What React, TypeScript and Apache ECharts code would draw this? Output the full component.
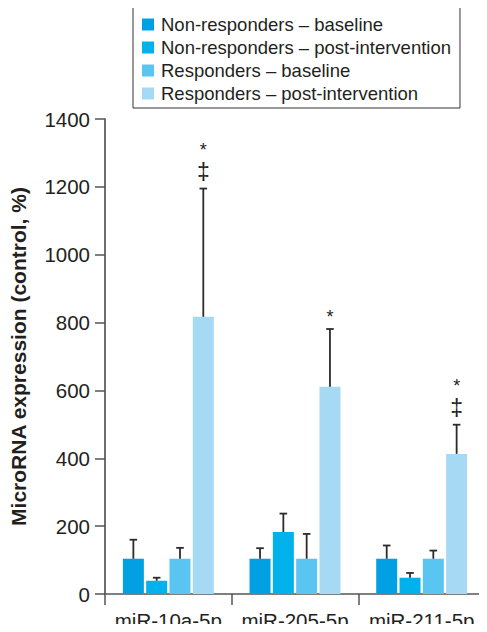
import { useEffect, useRef } from 'react';
import * as echarts from 'echarts';

const categories = ['miR-10a-5p', 'miR-205-5p', 'miR-211-5p'];
const seriesNames = [
  'Non-responders – baseline',
  'Non-responders – post-intervention',
  'Responders – baseline',
  'Responders – post-intervention',
];
const nonRespBaseline = [104, 104, 104];
const nonRespPost = [39, 183, 48];
const respBaseline = [104, 104, 104];
const respPost = [817, 611, 413];
const nonRespBaselineUpper = [160, 135, 143];
const nonRespPostUpper = [48, 237, 62];
const respBaselineUpper = [136, 177, 128];
const respPostUpper = [1195, 781, 499];
// significance marks on the responders post-intervention bars
const respPostStar = [true, true, true];
const respPostDagger = [true, false, true];

const colors = ['#00a0e3', '#00b1eb', '#5bc5f2', '#a6d9f4'];
const FONT = '"Liberation Sans", Arial, Helvetica, sans-serif';
const TEXT = '#231f20';
const AXIS = '#555555';
const BAR_W = 21;
const BAR_GAP_PCT = 11;

export default function App() {
  const ref = useRef<HTMLDivElement>(null);
  useEffect(() => {
    if (!ref.current) return;
    const chart = echarts.init(ref.current, undefined, { renderer: 'svg' });
    const means = [nonRespBaseline, nonRespPost, respBaseline, respPost];
    const uppers = [nonRespBaselineUpper, nonRespPostUpper, respBaselineUpper, respPostUpper];
    const pitch = BAR_W * (1 + BAR_GAP_PCT / 100);

    const errData: number[][] = [];
    means.forEach((arr, s) => {
      arr.forEach((m, c) => {
        errData.push([c, s, m, uppers[s][c]]);
      });
    });
    const markData = categories.map((_, c) => [
      c,
      3,
      respPostUpper[c],
      respPostStar[c] ? 1 : 0,
      respPostDagger[c] ? 1 : 0,
    ]);

    const option: any = {
      animation: false,
      color: colors,
      textStyle: { fontFamily: FONT },
      legend: {
        orient: 'vertical',
        left: 133,
        top: 7,
        padding: [8, 9, 5, 9],
        itemGap: 4,
        itemWidth: 12,
        itemHeight: 12,
        icon: 'rect',
        borderColor: '#333',
        borderWidth: 1,
        data: seriesNames,
        textStyle: {
          fontSize: 18.5,
          lineHeight: 18,
          color: TEXT,
          fontFamily: FONT,
          padding: [0, 0, 0, 2],
        },
      },
      grid: { left: 105, right: 2, top: 119, bottom: 38, containLabel: false, outerBoundsMode: 'none' },
      xAxis: {
        type: 'category',
        data: categories,
        axisLine: { lineStyle: { color: AXIS, width: 1.7 } },
        axisTick: { show: true, length: 11, lineStyle: { color: AXIS, width: 1.5 } },
        axisLabel: { fontSize: 20.5, color: TEXT, margin: 16, interval: 0, fontFamily: FONT },
      },
      yAxis: {
        type: 'value',
        min: 0,
        max: 1400,
        interval: 200,
        name: 'MicroRNA expression (control, %)',
        nameLocation: 'middle',
        nameGap: 76,
        nameMoveOverlap: false,
        nameTextStyle: { fontSize: 21, fontWeight: 'bold', color: TEXT, fontFamily: FONT, lineHeight: 22 },
        axisLine: { show: true, lineStyle: { color: AXIS, width: 1.7 } },
        axisTick: { show: true, length: 10, lineStyle: { color: AXIS, width: 1.5 } },
        axisLabel: {
          fontSize: 20.5,
          color: TEXT,
          margin: 15,
          fontFamily: FONT,
          formatter: (v: number) => String(v),
        },
        splitLine: { show: false },
      },
      series: [
        ...means.map((arr, s) => ({
          type: 'bar',
          name: seriesNames[s],
          data: arr,
          barWidth: BAR_W,
          barGap: BAR_GAP_PCT + '%',
          itemStyle: { color: colors[s] },
        })),
        {
          type: 'custom',
          name: 'errors',
          data: errData,
          encode: { x: 0, y: 3 },
          z: 10,
          renderItem: (params: any, api: any) => {
            const c = api.value(0);
            const s = api.value(1);
            const base = api.coord([c, api.value(2)]);
            const top = api.coord([c, api.value(3)]);
            const x = base[0] + (s - 1.5) * pitch;
            const st = { stroke: '#2b2b2b', lineWidth: 1.8 };
            return {
              type: 'group',
              children: [
                { type: 'line', shape: { x1: x, y1: base[1], x2: x, y2: top[1] }, style: st },
                { type: 'line', shape: { x1: x - 3.8, y1: top[1], x2: x + 3.8, y2: top[1] }, style: st },
              ],
            };
          },
        },
        {
          type: 'custom',
          name: 'marks',
          data: markData,
          encode: { x: 0, y: 2 },
          z: 10,
          renderItem: (params: any, api: any) => {
            const c = api.value(0);
            const s = api.value(1);
            const top = api.coord([c, api.value(2)]);
            const x = top[0] + (s - 1.5) * pitch;
            const hasStar = api.value(3) === 1;
            const hasDagger = api.value(4) === 1;
            const lines: string[] = [];
            if (hasStar) lines.push('{a|*}');
            if (hasDagger) lines.push('{b|‡}');
            return {
              type: 'text',
              x,
              y: top[1] - (hasDagger ? 6 : 1),
              style: {
                text: lines.join('\n'),
                fontFamily: FONT,
                fill: TEXT,
                align: 'center',
                verticalAlign: 'bottom',
                rich: {
                  a: { fontSize: 18, lineHeight: 22, fontFamily: FONT, fill: TEXT, align: 'center' },
                  b: { fontSize: 23, lineHeight: 22, fontFamily: FONT, fill: TEXT, align: 'center' },
                },
              },
            };
          },
        },
      ],
    };
    chart.setOption(option);
    return () => chart.dispose();
  }, []);
  return <div ref={ref} style={{ width: 487, height: 632, margin: -8 }} />;
}
